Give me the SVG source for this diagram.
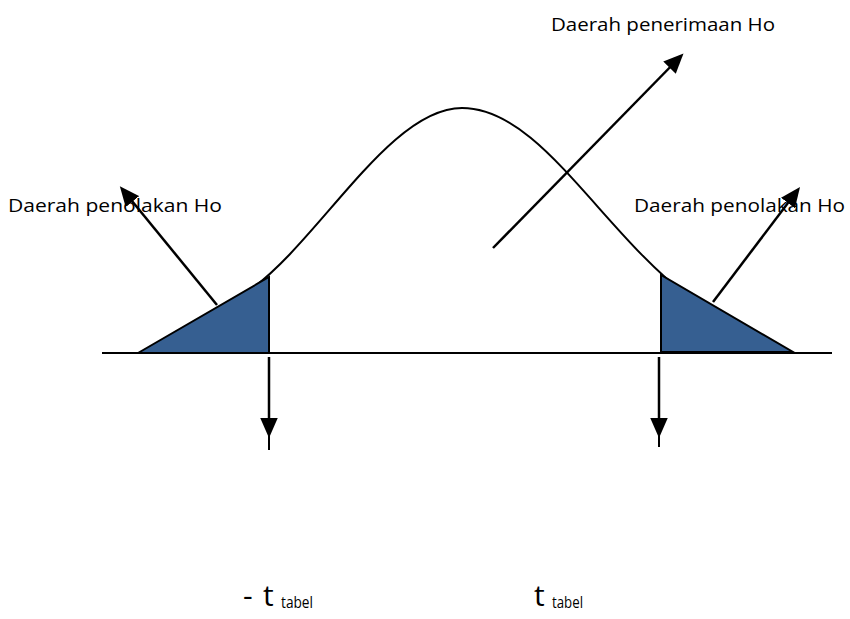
<svg xmlns="http://www.w3.org/2000/svg" width="850" height="619" viewBox="0 0 850 619">
<style>
.ln{stroke:#000;stroke-width:2;fill:none}
.ar{stroke:#000;stroke-width:2.5;fill:none;marker-end:url(#ah)}
.tri{fill:#365F91;stroke:#000;stroke-width:2}
.lbl{font-family:"Open Sans","Liberation Sans",sans-serif;font-size:19px;fill:#000}
.big{font-family:"Open Sans","Liberation Sans",sans-serif;font-size:30px;fill:#000}
.sub{font-family:"Open Sans","Liberation Sans",sans-serif;font-size:17px;fill:#000}
</style>
<defs>
<marker id="ah" markerWidth="8" markerHeight="7" refX="6" refY="3.5" orient="auto" markerUnits="strokeWidth">
<path d="M0,0 L8,3.5 L0,7 Z" fill="#000"/>
</marker>
</defs>
<rect width="850" height="619" fill="#fff"/>
<g id="curve">
<path class="ln" d="M250,290 C320,240 390,108 462,108 C540,108 600,230 690,298"/>
</g>
<g id="left-region">
<polygon class="tri" points="138,353 269,277 269,353"/>
</g>
<g id="right-region">
<polygon class="tri" points="661,275 661,352 793,352"/>
</g>
<g id="axis">
<line class="ln" x1="102" y1="353" x2="832" y2="353"/>
</g>
<g id="connectors">
<line class="ar" x1="217" y1="305" x2="123" y2="190"/>
<line class="ar" x1="713" y1="302" x2="797" y2="191"/>
<line class="ar" x1="493" y1="248" x2="680" y2="57"/>
<line class="ar" x1="269" y1="357" x2="269" y2="433"/>
<line class="ln" x1="269" y1="430" x2="269" y2="450"/>
<line class="ar" x1="659" y1="357" x2="659" y2="433"/>
<line class="ln" x1="659" y1="430" x2="659" y2="447"/>
</g>
<g id="label-accept">
<text class="lbl" x="551" y="31" textLength="224" lengthAdjust="spacingAndGlyphs">Daerah penerimaan Ho</text>
</g>
<g id="label-reject-left">
<text class="lbl" x="8" y="212" textLength="214" lengthAdjust="spacingAndGlyphs">Daerah penolakan Ho</text>
</g>
<g id="label-reject-right">
<text class="lbl" x="634" y="212" textLength="211" lengthAdjust="spacingAndGlyphs">Daerah penolakan Ho</text>
</g>
<g id="label-neg-t">
<text class="big" x="243" y="606">-</text>
<text class="big" x="263" y="606">t</text>
<text class="sub" x="281" y="608" textLength="32" lengthAdjust="spacingAndGlyphs">tabel</text>
</g>
<g id="label-t">
<text class="big" x="534" y="606">t</text>
<text class="sub" x="552" y="608" textLength="31" lengthAdjust="spacingAndGlyphs">tabel</text>
</g>
</svg>
